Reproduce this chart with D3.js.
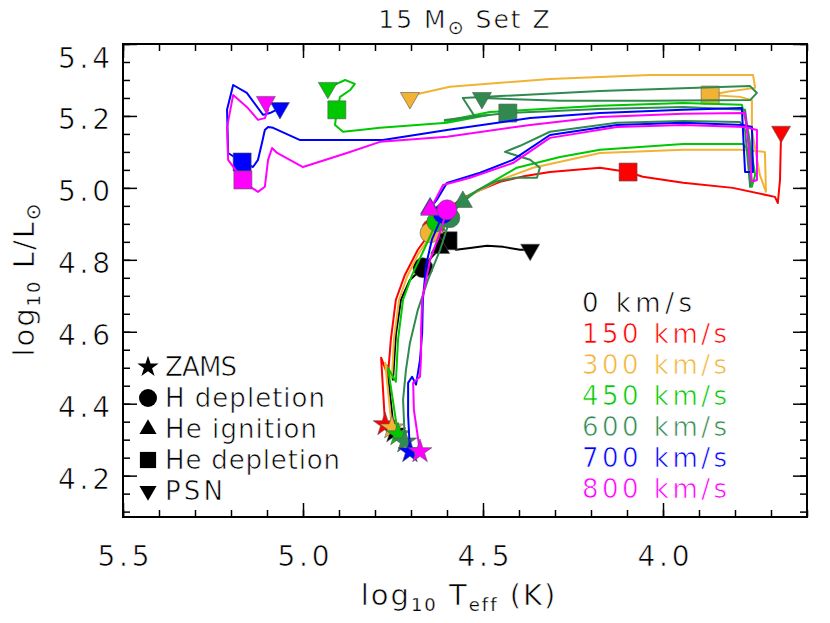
<!DOCTYPE html>
<html>
<head>
<meta charset="utf-8">
<script src="https://cdn.jsdelivr.net/npm/d3@7"></script>
<style>
  body { margin: 0; background: #fff; }
  text { font-family: "DejaVu Sans", sans-serif; stroke: #fff; stroke-width: 0.65px; }
  tspan.sub { stroke-width: 0.25px; }
</style>
</head>
<body>
<div id="chart"></div>
<script>
// ---- data: [log Teff, log L] ----
let rotations = ["0 km/s", "150 km/s", "300 km/s", "450 km/s", "600 km/s", "700 km/s", "800 km/s"];
let colors = ["#000000", "#ff0000", "#f2b233", "#00c800", "#308a50", "#0000ff", "#ff00ff"];

let track0 = [[4.747,4.322],[4.767,4.506],[4.750,4.467],[4.742,4.592],[4.728,4.689],[4.703,4.744],[4.667,4.778],
  [4.642,4.808],[4.619,4.833],[4.597,4.853],[4.575,4.828],[4.536,4.833],[4.489,4.839],[4.444,4.836],[4.397,4.828],[4.369,4.828]];

let track150 = [[4.772,4.342],[4.783,4.528],[4.764,4.478],[4.756,4.578],[4.742,4.689],[4.717,4.758],[4.681,4.828],
  [4.653,4.867],[4.642,4.886],[4.631,4.897],[4.619,4.917],[4.583,4.953],[4.556,4.972],[4.508,4.994],[4.453,5.017],
  [4.383,5.033],[4.314,5.044],[4.175,5.056],[4.097,5.044],[4.056,5.031],[3.944,5.014],[3.806,5.000],[3.689,4.975],
  [3.681,4.958],[3.675,5.022],[3.672,5.156]];

let track300 = [[4.753,4.333],[4.772,4.514],[4.753,4.472],[4.747,4.583],[4.733,4.689],[4.711,4.753],[4.681,4.814],
  [4.653,4.856],[4.647,4.875],[4.636,4.889],[4.606,4.925],[4.550,4.972],[4.453,5.022],[4.361,5.056],[4.175,5.097],
  [3.944,5.106],[3.786,5.106],[3.717,5.100],[3.714,4.989],[3.731,5.036],[3.753,5.161],[3.753,5.244],[3.786,5.253],
  [3.869,5.258],[3.822,5.267],[3.744,5.278],[3.750,5.314],[4.036,5.314],[4.314,5.303],[4.592,5.281],[4.694,5.258],
  [4.703,5.250]];

let track450 = [[4.736,4.314],[4.764,4.500],[4.742,4.461],[4.736,4.578],[4.722,4.689],[4.697,4.758],[4.664,4.828],
  [4.639,4.883],[4.628,4.906],[4.619,4.917],[4.586,4.944],[4.536,4.981],[4.406,5.056],[4.286,5.086],[4.175,5.106],
  [3.944,5.122],[3.778,5.122],[3.764,5.106],[3.753,5.003],[3.744,5.036],[3.764,5.161],[3.781,5.231],[3.944,5.236],
  [4.175,5.228],[4.369,5.217],[4.481,5.211],[4.606,5.186],[4.481,5.203],[4.600,5.181],[4.786,5.167],[4.842,5.161],
  [4.889,5.156],[4.911,5.175],[4.906,5.217],[4.897,5.253],[4.869,5.272],[4.856,5.289],[4.883,5.300],[4.931,5.278]];

let track600 = [[4.717,4.294],[4.722,4.411],[4.714,4.494],[4.703,4.569],[4.681,4.661],[4.653,4.744],[4.619,4.828],
  [4.597,4.897],[4.592,4.917],[4.578,4.939],[4.556,4.961],[4.514,4.994],[4.467,5.017],[4.411,5.028],[4.350,5.028],
  [4.342,5.056],[4.369,5.078],[4.439,5.100],[4.397,5.117],[4.314,5.156],[4.128,5.181],[3.944,5.186],[3.786,5.183],
  [3.772,5.161],[3.758,5.003],[3.753,5.064],[3.772,5.217],[3.944,5.225],[4.175,5.219],[4.431,5.208],[4.536,5.197],
  [4.606,5.189],[4.522,5.197],[4.556,5.250],[4.175,5.269],[3.758,5.283],[3.739,5.264],[3.758,5.244],[4.036,5.242],
  [4.286,5.242],[4.503,5.250]];

let track700 = [[4.703,4.267],[4.708,4.369],[4.708,4.458],[4.697,4.475],[4.686,4.453],[4.675,4.522],[4.669,4.597],
  [4.667,4.689],[4.658,4.786],[4.642,4.856],[4.611,4.928],[4.647,4.943],[4.628,4.967],[4.600,5.014],[4.508,5.042],
  [4.417,5.078],[4.314,5.147],[4.128,5.175],[3.944,5.181],[3.778,5.175],[3.753,5.169],[3.750,5.044],[3.772,5.044],
  [3.781,5.222],[3.944,5.217],[4.175,5.208],[4.369,5.194],[4.600,5.161],[4.778,5.133],[4.953,5.133],[5.008,5.133],
  [5.083,5.167],[5.097,5.169],[5.106,5.161],[5.114,5.125],[5.125,5.078],[5.139,5.058],[5.169,5.072],[5.208,5.097],
  [5.211,5.217],[5.194,5.286],[5.156,5.264],[5.111,5.203],[5.092,5.208],[5.064,5.222]];

let track800 = [[4.675,4.267],[4.692,4.383],[4.694,4.458],[4.675,4.475],[4.672,4.531],[4.672,4.606],[4.669,4.689],
  [4.647,4.800],[4.619,4.878],[4.600,4.939],[4.625,4.939],[4.647,4.939],[4.611,5.008],[4.536,5.028],[4.417,5.069],
  [4.314,5.139],[4.128,5.169],[3.944,5.175],[3.772,5.169],[3.739,5.161],[3.739,5.022],[3.753,5.017],[3.764,5.133],
  [3.772,5.208],[3.944,5.206],[4.175,5.197],[4.369,5.175],[4.600,5.142],[4.786,5.128],[4.878,5.097],[5.000,5.058],
  [5.072,5.097],[5.086,5.111],[5.097,5.078],[5.106,5.003],[5.125,4.989],[5.142,5.000],[5.167,5.022],[5.208,5.078],
  [5.211,5.169],[5.194,5.258],[5.156,5.225],[5.125,5.189],[5.106,5.194],[5.097,5.217],[5.103,5.239]];

let tracks = [track0, track150, track300, track450, track600, track700, track800];

// evolutionary points, one per rotation (same order as rotations)
let zams  = [[4.747,4.322],[4.772,4.342],[4.753,4.333],[4.736,4.314],[4.717,4.294],[4.703,4.267],[4.675,4.267]];
let hDep  = [[4.667,4.778],[4.642,4.886],[4.647,4.875],[4.628,4.906],[4.592,4.917],[4.611,4.928],[4.600,4.939]];
let heIgn = [[4.619,4.833],[4.631,4.897],[4.636,4.889],[4.619,4.917],[4.556,4.961],[4.647,4.943],[4.647,4.939]];
let heDep = [[4.597,4.853],[4.097,5.044],[3.869,5.258],[4.906,5.217],[4.431,5.208],[5.169,5.072],[5.167,5.022]];
let psn   = [[4.369,4.828],[3.672,5.156],[4.703,5.250],[4.931,5.278],[4.503,5.250],[5.064,5.222],[5.103,5.239]];

let xTicks = [5.5, 5.0, 4.5, 4.0];
let yTicks = [4.2, 4.4, 4.6, 4.8, 5.0, 5.2, 5.4];
let legendPhases = ["ZAMS", "H depletion", "He ignition", "He depletion", "PSN"];

// ---- layout ----
let svgWidth = 830;
let svgHeight = 623;
let frame = { left: 123, right: 807, top: 44, bottom: 517 };

let svg = d3.select("#chart")
  .append("svg")
  .attr("width", svgWidth)
  .attr("height", svgHeight);

let x = d3.scaleLinear().domain([5.5, 3.6]).range([frame.left, frame.right]);
let y = d3.scaleLinear().domain([4.085, 5.4]).range([frame.bottom, frame.top]);

let fontSize = 26;

// minor ticks
let xMinor = d3.range(0, 20).map(i => +(5.5 - i * 0.1).toFixed(2));
let yMinor = d3.range(0, 27).map(i => +(4.1 + i * 0.05).toFixed(2));

function addAxis(axis, tx, ty) {
  let g = svg.append("g").attr("transform", `translate(${tx},${ty})`).call(axis);
  g.select(".domain").remove();
  g.selectAll("line").attr("stroke", "#000").attr("stroke-width", 1.5);
  return g;
}

addAxis(d3.axisBottom(x).tickValues(xMinor).tickSizeInner(-7).tickSizeOuter(0).tickFormat(""), 0, frame.bottom);
addAxis(d3.axisTop(x).tickValues(xMinor).tickSizeInner(-7).tickSizeOuter(0).tickFormat(""), 0, frame.top);
addAxis(d3.axisLeft(y).tickValues(yMinor).tickSizeInner(-7).tickSizeOuter(0).tickFormat(""), frame.left, 0);
addAxis(d3.axisRight(y).tickValues(yMinor).tickSizeInner(-7).tickSizeOuter(0).tickFormat(""), frame.right, 0);
addAxis(d3.axisTop(x).tickValues(xTicks).tickSizeInner(-14).tickSizeOuter(0).tickFormat(""), 0, frame.top);
addAxis(d3.axisRight(y).tickValues(yTicks).tickSizeInner(-14).tickSizeOuter(0).tickFormat(""), frame.right, 0);

let bottomAxis = addAxis(d3.axisBottom(x).tickValues(xTicks).tickSizeInner(-14).tickSizeOuter(0)
  .tickFormat(d3.format(".1f")), 0, frame.bottom);
bottomAxis.selectAll("text")
  .attr("y", 49).attr("dy", null)
  .attr("font-size", 28)
  .attr("textLength", 52).attr("lengthAdjust", "spacing")
  .attr("fill", "#000");

let leftAxis = addAxis(d3.axisLeft(y).tickValues(yTicks).tickSizeInner(-14).tickSizeOuter(0)
  .tickFormat(d3.format(".1f")), frame.left, 0);
leftAxis.selectAll("text")
  .attr("x", -13).attr("dy", null)
  .attr("y", d => Math.max(13, 67 - y(d)))
  .attr("font-size", 28)
  .attr("textLength", 52).attr("lengthAdjust", "spacing")
  .attr("fill", "#000");

// frame
svg.append("rect")
  .attr("x", frame.left).attr("y", frame.top)
  .attr("width", frame.right - frame.left).attr("height", frame.bottom - frame.top)
  .attr("fill", "none").attr("stroke", "#000").attr("stroke-width", 2);

// ---- markers ----
function trianglePath(w, down) {
  let h = w * Math.sqrt(3) / 2;
  let s = down ? -1 : 1;
  return `M0,${-s * h * 2 / 3}L${w / 2},${s * h / 3}L${-w / 2},${s * h / 3}Z`;
}
function starPath(r) {
  return d3.symbol().type(d3.symbolStar).size(r * r / 0.8908)();
}
let shapes = [
  s => starPath(12.5 * s),
  s => d3.symbol().type(d3.symbolCircle).size(Math.PI * 100 * s * s)(),
  s => trianglePath(19 * s, false),
  s => d3.symbol().type(d3.symbolSquare).size(18 * 18 * s * s)(),
  s => trianglePath(19 * s, true)
];
let phases = [zams, hDep, heIgn, heDep, psn];

let line = d3.line().x(d => x(d[0])).y(d => y(d[1]));

let plot = svg.append("g");
tracks.forEach((track, i) => {
  plot.append("path")
    .attr("d", line(track))
    .attr("fill", "none")
    .attr("stroke", colors[i])
    .attr("stroke-width", 2)
    .attr("stroke-linejoin", "round");

  [4, 3, 2, 1, 0].forEach(p => {
    let pt = phases[p][i];
    plot.append("path")
      .attr("d", shapes[p](1))
      .attr("transform", `translate(${x(pt[0])},${y(pt[1])})`)
      .attr("fill", colors[i])
      .attr("stroke", "#555")
      .attr("stroke-width", 0.6);
  });
});

// ---- legend: phases ----
let phaseWidths = [72, 160, 152, 175, 58];
let legendLeft = svg.append("g");
legendPhases.forEach((name, p) => {
  let ly = 367 + p * 31;
  legendLeft.append("path")
    .attr("d", shapes[p](0.9))
    .attr("transform", `translate(148,${ly})`)
    .attr("fill", "#000");
  legendLeft.append("text")
    .attr("x", 165).attr("y", ly + 9)
    .attr("font-size", fontSize)
    .attr("textLength", phaseWidths[p]).attr("lengthAdjust", "spacing")
    .text(name);
});

// ---- legend: rotation ----
let legendRight = svg.append("g");
rotations.forEach((name, i) => {
  legendRight.append("text")
    .attr("x", 582).attr("y", 312 + i * 31)
    .attr("font-size", fontSize)
    .attr("textLength", i === 0 ? 110 : 145).attr("lengthAdjust", "spacing")
    .attr("fill", colors[i])
    .text(name);
});

// ---- titles ----
let title = svg.append("text")
  .attr("x", (frame.left + frame.right) / 2).attr("y", 28)
  .attr("text-anchor", "middle").attr("font-size", 25).attr("letter-spacing", 2);
title.append("tspan").text("15 M");
title.append("tspan").attr("class", "sub").attr("font-size", 19).attr("dy", 6).text("\u2299");
title.append("tspan").attr("dy", -6).text(" Set Z");

let xTitle = svg.append("text")
  .attr("x", (frame.left + frame.right) / 2 - 6).attr("y", 605)
  .attr("text-anchor", "middle").attr("font-size", 29).attr("letter-spacing", 2);
xTitle.append("tspan").text("log");
xTitle.append("tspan").attr("class", "sub").attr("font-size", 18).attr("dy", 6).text("10");
xTitle.append("tspan").attr("dy", -6).text(" T");
xTitle.append("tspan").attr("class", "sub").attr("font-size", 18).attr("dy", 6).text("eff");
xTitle.append("tspan").attr("dy", -6).text(" (K)");

let yTitle = svg.append("text")
  .attr("transform", "translate(34,279) rotate(-90)")
  .attr("text-anchor", "middle").attr("font-size", 29).attr("letter-spacing", 2);
yTitle.append("tspan").text("log");
yTitle.append("tspan").attr("class", "sub").attr("font-size", 18).attr("dy", 6).text("10");
yTitle.append("tspan").attr("dy", -6).text(" L/L");
yTitle.append("tspan").attr("class", "sub").attr("font-size", 20).attr("dy", 6).text("\u2299");
</script>
</body>
</html>
